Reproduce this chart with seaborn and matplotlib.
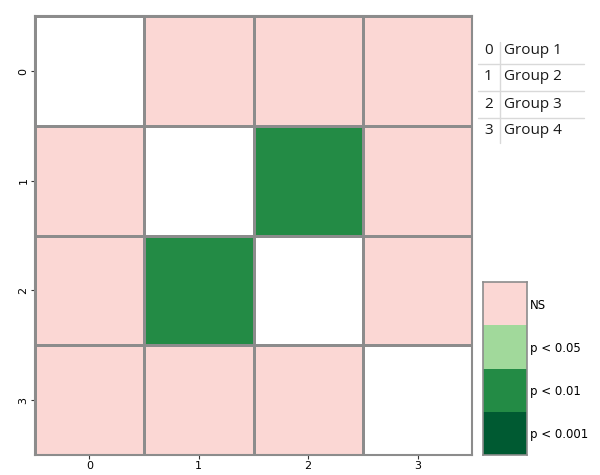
import numpy as np
import pandas as pd
import seaborn as sns
import matplotlib.pyplot as plt
from matplotlib.colors import ListedColormap, BoundaryNorm
from matplotlib.lines import Line2D

# Pairwise significance codes: -1 diagonal, 0 NS, 1 p<0.05, 2 p<0.01, 3 p<0.001
group_ids = [0, 1, 2, 3]
group_names = ["Group 1", "Group 2", "Group 3", "Group 4"]
sig_codes = [
    [-1, 0, 0, 0],
    [0, -1, 2, 0],
    [0, 2, -1, 0],
    [0, 0, 0, -1],
]
level_labels = ["NS", "p < 0.05", "p < 0.01", "p < 0.001"]
level_colors = ["#fbd7d4", "#a1d99b", "#238b45", "#005a32"]

df = pd.DataFrame(sig_codes, index=group_ids, columns=group_ids)

sns.set_style("white")
fig = plt.figure(figsize=(6, 4.75), dpi=100)
ax = fig.add_axes([0.058, 0.042, 0.729, 0.924])
cax = fig.add_axes([0.805, 0.042, 0.073, 0.364])

cmap = ListedColormap(["#ffffff"] + level_colors)
norm = BoundaryNorm([-1.5, -0.5, 0.5, 1.5, 2.5, 3.5], cmap.N)

sns.heatmap(df, ax=ax, cmap=cmap, norm=norm, cbar=False,
            linewidths=0.8, linecolor="0.55", square=False)
ax.tick_params(axis="both", length=3, width=0.8, color="0.2", labelsize=8,
               labelcolor="black", pad=1.5, bottom=True, left=True)
for lab in ax.get_yticklabels():
    lab.set_rotation(90)
    lab.set_va("center")
for sp in ax.spines.values():
    sp.set_visible(True)
    sp.set_color("0.55")
    sp.set_linewidth(1.5)

# Discrete colour key for the significance levels
key = pd.DataFrame({"level": [0, 1, 2, 3]})
sns.heatmap(key, ax=cax, cmap=ListedColormap(level_colors), cbar=False,
            xticklabels=False, yticklabels=level_labels)
cax.yaxis.tick_right()
cax.tick_params(axis="y", length=0, labelsize=8.5, pad=2, labelrotation=0,
                labelcolor="black")
for sp in cax.spines.values():
    sp.set_visible(True)
    sp.set_color("0.55")
    sp.set_linewidth(1.2)

# Group index legend
row_y = [50, 77, 104, 131]
for gid, name, y in zip(group_ids, group_names, row_y):
    fy = 1 - y / 475
    fig.text(484 / 600, fy, str(gid), ha="left", va="center", fontsize=11,
             family="Open Sans", color="0.1")
    fig.text(504 / 600, fy, name, ha="left", va="center", fontsize=11,
             family="Open Sans", color="0.1")
for y in [64, 91, 118]:
    fig.add_artist(Line2D([478 / 600, 584 / 600], [1 - y / 475] * 2,
                          color="0.85", lw=1))
fig.add_artist(Line2D([500 / 600] * 2, [1 - 42 / 475, 1 - 143 / 475],
                      color="0.85", lw=1))

fig.savefig("out.png", dpi=100)
